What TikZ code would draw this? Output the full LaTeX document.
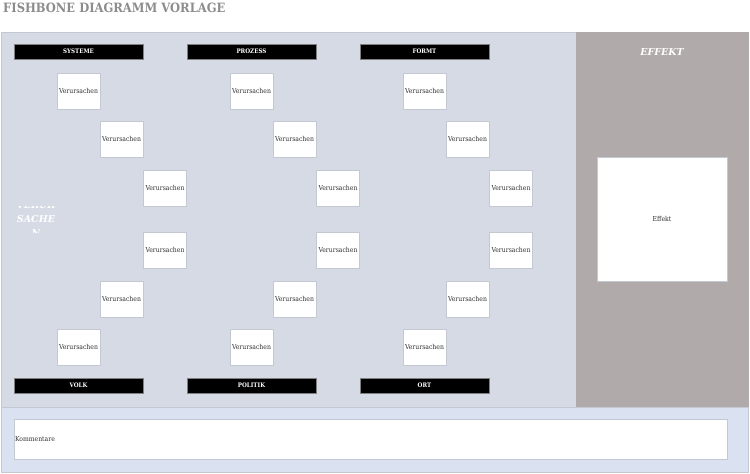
\documentclass[tikz,border=0pt]{standalone}
\usepackage{fontspec}
\setmainfont{DejaVu Serif}
\newfontfamily\condserif{DejaVu Serif Condensed}
\usetikzlibrary{positioning}
\definecolor{panelblue}{RGB}{214,218,229}
\definecolor{panelgray}{RGB}{176,170,170}
\definecolor{notesblue}{RGB}{218,226,241}
\definecolor{titlegray}{RGB}{140,140,140}
\definecolor{edgegray}{RGB}{196,200,210}
\definecolor{textgray}{RGB}{50,50,50}
\begin{document}
\begin{tikzpicture}[x=1pt,y=-1pt,
    cause node/.style={draw=edgegray,fill=white,minimum width=43pt,minimum height=36pt,inner sep=0pt,text=textgray,font=\condserif\fontsize{6.8}{8}\selectfont},
    head node/.style={draw=gray,fill=black,text=white,minimum width=129pt,minimum height=15pt,inner sep=0pt,font=\condserif\fontsize{6.2}{7}\selectfont\bfseries},
    panel/.style={draw=edgegray}]
    \useasboundingbox (0,0) rectangle (750,474);
    \fill[white] (0,0) rectangle (750,474);

    % title
    \node[anchor=west,inner sep=0pt,text=titlegray,font=\condserif\fontsize{12.8}{15}\selectfont\bfseries] (title) at (3,8) {FISHBONE DIAGRAMM VORLAGE};

    % panels
    \filldraw[panel,fill=panelblue] (1,32) rectangle (576,407);
    \filldraw[panel,fill=panelgray,draw=panelgray] (576,32) rectangle (748,407);
    \filldraw[panel,fill=notesblue] (1,407) rectangle (748,472);

    % effect side
    \node[text=white,font=\fontsize{9.5}{12}\selectfont\bfseries\itshape] (effect title) at (662,52) {EFFEKT};
    \node[draw=edgegray,fill=white,minimum width=130pt,minimum height=124pt,inner sep=0pt,text=textgray,font=\condserif\fontsize{6.8}{8}\selectfont] (effect) at (662,219) {Effekt};

    % comments
    \node[draw=edgegray,fill=white,minimum width=713pt,minimum height=40pt,inner sep=0pt] (notes) at (370.5,439) {};
    \node[anchor=west,inner sep=1pt,text=textgray,font=\condserif\fontsize{6.8}{8}\selectfont] (notes text) at (notes.west) {Kommentare};

    % clipped spine label
    \begin{scope}
        \clip (10,206) rectangle (62,232);
        \node[text=white,align=center,font=\fontsize{9.5}{14}\selectfont\bfseries\itshape] (spine) at (36,219) {VERUR\\SACHE\\N};
    \end{scope}

    % category heads
    \node[head node] (systeme) at (78.5,51.5) {SYSTEME};
    \node[head node] (prozess) at (251.5,51.5) {PROZESS};
    \node[head node] (formt) at (424.5,51.5) {FORMT};
    \node[head node] (volk) at (78.5,385.5) {VOLK};
    \node[head node] (politik) at (251.5,385.5) {POLITIK};
    \node[head node] (ort) at (424.5,385.5) {ORT};

    % causes
    \foreach \col/\dx in {a/0,b/173,c/346} {
        \node[cause node] (\col1) at (78.5+\dx,91) {Verursachen};
        \node[cause node] (\col2) at (121.5+\dx,139) {Verursachen};
        \node[cause node] (\col3) at (165+\dx,188) {Verursachen};
        \node[cause node] (\col4) at (165+\dx,250) {Verursachen};
        \node[cause node] (\col5) at (121.5+\dx,299) {Verursachen};
        \node[cause node] (\col6) at (78.5+\dx,347) {Verursachen};
    }
\end{tikzpicture}
\end{document}
